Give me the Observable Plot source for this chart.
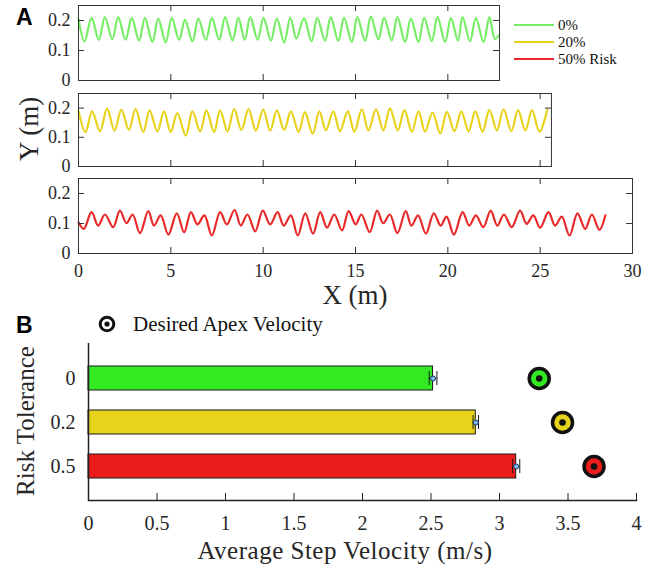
<!DOCTYPE html>
<html>
<head>
<meta charset="utf-8">
<script src="https://cdn.jsdelivr.net/npm/d3@7"></script>
<script src="https://cdn.jsdelivr.net/npm/@observablehq/plot@0.6"></script>
<style>
  html, body { margin: 0; padding: 0; background: #fff; }
  #chart { position: relative; width: 656px; height: 566px; background: #fff; overflow: hidden; }
  #chart > svg, #chart > div { position: absolute; left: 0; }
  #chart svg, #chart svg text { font-family: 'Liberation Serif', 'Times New Roman', serif !important; }
  #chart svg text.bold { font-family: 'Liberation Sans', Arial, sans-serif !important; }
</style>
</head>
<body>
<div id="chart"></div>
<script>
// ---------- Data ----------
const xTicks = [0, 5, 10, 15, 20, 25, 30];
const yTicks = [0, 0.1, 0.2];
const legendLabels = ["0%", "20%", "50% Risk"];
const lineColors = ["#77ee66", "#e8d21c", "#e82a2a"];

const greenX = [0,0.33,0.705,1.10,1.43,1.83,2.15,2.55,2.88,3.28,3.60,4.00,4.32,4.72,5.05,5.45,5.77,6.17,6.49,6.90,7.22,7.62,7.94,8.34,8.66,9.00,9.30,9.70,10.02,10.42,10.74,11.14,11.47,11.80,12.21,12.62,12.93,13.35,13.66,14.07,14.38,14.80,15.10,15.52,15.83,16.24,16.55,16.96,17.27,17.68,18.00,18.41,18.72,19.13,19.44,19.85,20.17,20.55,20.80,21.20,21.52,21.93,22.25,22.55,22.75];
const greenY = [0.205,0.13,0.209,0.135,0.211,0.138,0.211,0.136,0.209,0.133,0.209,0.128,0.206,0.127,0.209,0.135,0.202,0.130,0.206,0.135,0.209,0.136,0.211,0.134,0.209,0.135,0.211,0.136,0.209,0.133,0.206,0.127,0.209,0.140,0.207,0.131,0.209,0.132,0.211,0.132,0.209,0.128,0.211,0.132,0.213,0.137,0.209,0.134,0.211,0.128,0.206,0.128,0.209,0.131,0.211,0.128,0.209,0.133,0.211,0.131,0.209,0.128,0.211,0.138,0.150];

const yellowX = [0,0.38,0.74,1.16,1.55,1.95,2.32,2.73,3.09,3.51,3.85,4.27,4.63,4.99,5.35,5.81,6.17,6.59,6.93,7.34,7.67,8.07,8.43,8.82,9.21,9.60,10.00,10.38,10.74,11.14,11.50,11.92,12.26,12.68,13.04,13.40,13.80,14.16,14.58,14.94,15.34,15.70,16.11,16.51,16.87,17.29,17.65,18.05,18.41,18.77,19.17,19.59,19.95,20.36,20.73,21.12,21.49,21.88,22.25,22.66,23.02,23.44,23.80,24.20,24.56,24.96,25.38];
const yellowY = [0.19,0.118,0.189,0.12,0.198,0.123,0.195,0.125,0.197,0.118,0.192,0.12,0.189,0.118,0.183,0.106,0.189,0.12,0.192,0.118,0.192,0.12,0.197,0.125,0.197,0.123,0.195,0.123,0.192,0.125,0.189,0.118,0.186,0.112,0.189,0.124,0.189,0.121,0.189,0.119,0.196,0.124,0.196,0.124,0.199,0.124,0.193,0.119,0.189,0.119,0.185,0.113,0.187,0.121,0.189,0.121,0.189,0.119,0.193,0.124,0.196,0.121,0.193,0.124,0.193,0.119,0.193];

const redX = [0,0.29,0.705,1.067,1.43,1.88,2.24,2.60,2.93,3.33,3.78,4.09,4.45,4.87,5.32,5.72,6.09,6.44,6.82,7.22,7.67,8.03,8.45,8.79,9.15,9.57,9.98,10.38,10.78,11.11,11.50,11.87,12.28,12.70,13.09,13.46,13.85,14.27,14.63,15.01,15.32,15.77,16.17,16.50,16.86,17.27,17.72,18.03,18.39,18.81,19.24,19.61,19.93,20.33,20.80,21.16,21.52,21.92,22.32,22.68,23.04,23.46,23.91,24.27,24.63,25.00,25.45,25.81,26.17,26.59,27.02,27.44,27.80,28.21,28.53];
const redY = [0.104,0.082,0.138,0.093,0.130,0.088,0.143,0.101,0.130,0.068,0.141,0.093,0.127,0.063,0.134,0.071,0.138,0.097,0.127,0.060,0.138,0.097,0.145,0.093,0.130,0.074,0.143,0.097,0.138,0.093,0.127,0.060,0.134,0.066,0.138,0.086,0.130,0.077,0.141,0.097,0.130,0.071,0.143,0.101,0.130,0.068,0.141,0.093,0.127,0.066,0.134,0.093,0.123,0.063,0.138,0.093,0.127,0.088,0.143,0.093,0.130,0.088,0.143,0.099,0.127,0.086,0.138,0.093,0.123,0.060,0.134,0.082,0.130,0.079,0.127];

// x-extent of each trajectory panel (m)
const panelXMax = [22.80, 25.61, 30];

// Panel B
const risks = ["0", "0.2", "0.5"];
const avgVel = [2.515, 2.827, 3.122];
const velErr = [0.028, 0.020, 0.026];
const apexVel = [3.29, 3.46, 3.69];
const velTicks = [0, 0.5, 1, 1.5, 2, 2.5, 3, 3.5, 4];
const barColors = ["#33ea22", "#e6d31a", "#ea1c1c"];

// ---------- Layout ----------
const W = 656;
const chart = document.getElementById("chart");
const serif = "Liberation Serif";
const axisColor = "#333";
const fmt = d => String(d);

function trajPanel({xs, ys, color, xMax, top, height, mTop, mBottom, showX}) {
  const mLeft = 78;
  const pxPerM = (632 - 78) / 30;
  const mRight = W - (mLeft + xMax * pxPerM);
  const fh = height - mTop - mBottom;
  const fw = W - mLeft - mRight;
  const data = xs.map((x, i) => ({x, y: ys[i]}));
  const xt = xTicks.filter(t => t <= xMax + 1e-9);
  const marks = [
    Plot.line(data, {x: "x", y: "y", stroke: color, strokeWidth: 2.2, curve: "catmull-rom"}),
    Plot.frame({stroke: axisColor, strokeWidth: 1}),
    Plot.tickX(xt, {x: d => d, insetTop: fh - 6, stroke: axisColor}),
    Plot.tickX(xt, {x: d => d, insetBottom: fh - 6, stroke: axisColor}),
    Plot.tickY(yTicks, {y: d => d, insetRight: fw - 6, stroke: axisColor}),
    Plot.tickY(yTicks, {y: d => d, insetLeft: fw - 6, stroke: axisColor}),
    Plot.axisY({ticks: yTicks, tickFormat: fmt, tickSize: 0, tickPadding: 8, label: null, fontSize: 18, fontFamily: serif})
  ];
  if (showX) marks.push(Plot.axisX({ticks: xt, tickFormat: fmt, tickSize: 0, tickPadding: 11, label: null, fontSize: 18, fontFamily: serif}));
  const p = Plot.plot({
    width: W, height,
    marginLeft: mLeft, marginRight: mRight, marginTop: mTop, marginBottom: mBottom,
    x: {domain: [0, xMax], axis: showX ? undefined : null},
    y: {domain: [0, 0.25]},
    style: {fontFamily: serif, fontSize: "18px", color: "#262626", background: "transparent", overflow: "visible"},
    marks
  });
  p.style.top = top + "px";
  chart.appendChild(p);
}

trajPanel({xs: greenX, ys: greenY, color: lineColors[0], xMax: panelXMax[0], top: 0, height: 88, mTop: 5, mBottom: 8, showX: false});
trajPanel({xs: yellowX, ys: yellowY, color: lineColors[1], xMax: panelXMax[1], top: 88, height: 88, mTop: 5, mBottom: 10, showX: false});
trajPanel({xs: redX, ys: redY, color: lineColors[2], xMax: panelXMax[2], top: 176, height: 100, mTop: 2, mBottom: 23, showX: true});

// Panel B
const barData = risks.map((r, i) => ({risk: r, v: avgVel[i], lo: avgVel[i] - velErr[i], hi: avgVel[i] + velErr[i], apex: apexVel[i]}));
const bTop = 310, bH = 256, bMT = 33, bMB = 66;
const bFH = bH - bMT - bMB;
const pB = Plot.plot({
  width: W, height: bH,
  marginLeft: 88, marginRight: 20, marginTop: bMT, marginBottom: bMB,
  x: {domain: [0, 4]},
  y: {domain: risks, type: "band", paddingInner: 0.46, paddingOuter: 0.5},
  color: {domain: risks, range: barColors},
  style: {fontFamily: serif, fontSize: "20px", color: "#262626", background: "transparent", overflow: "visible"},
  marks: [
    Plot.barX(barData, {x: "v", y: "risk", fill: "risk", stroke: "#1a1a1a", strokeWidth: 1}),
    Plot.ruleY(barData, {y: "risk", x1: "lo", x2: "hi", stroke: "#1a1a1a", strokeWidth: 1}),
    Plot.tickX(barData, {x: "lo", y: "risk", stroke: "#1a1a1a", insetTop: 5, insetBottom: 5}),
    Plot.tickX(barData, {x: "hi", y: "risk", stroke: "#1a1a1a", insetTop: 5, insetBottom: 5}),
    Plot.dot(barData, {x: "v", y: "risk", r: 2.5, fill: "#7db9ec", stroke: "#1d3b63", strokeWidth: 1}),
    Plot.dot(barData, {x: "apex", y: "risk", r: 10, fill: "risk", stroke: "#111", strokeWidth: 3.5}),
    Plot.dot(barData, {x: "apex", y: "risk", r: 3.3, fill: "#111"}),
    Plot.ruleX([0], {stroke: "#222", strokeWidth: 1.5}),
    Plot.frame({anchor: "bottom", stroke: "#222", strokeWidth: 1.5}),
    Plot.tickX(velTicks, {x: d => d, insetTop: bFH - 7, stroke: "#222"}),
    Plot.axisX({ticks: velTicks, tickFormat: fmt, tickSize: 0, tickPadding: 15, label: null, fontSize: 20, fontFamily: serif}),
    Plot.axisY({tickSize: 0, tickPadding: 13, label: null, fontSize: 20, fontFamily: serif})
  ]
});
pB.style.top = bTop + "px";
chart.appendChild(pB);

// ---------- Overlay: panel letters, axis titles, legends ----------
const ov = d3.select(chart).append("svg")
  .attr("width", W).attr("height", 566)
  .style("top", "0px").style("pointer-events", "none");

const bold = "Liberation Sans";
ov.append("text").attr("class", "bold").attr("x", 16).attr("y", 25).attr("font-family", bold).attr("font-weight", "bold").attr("font-size", 23).text("A");
ov.append("text").attr("class", "bold").attr("x", 16).attr("y", 333).attr("font-family", bold).attr("font-weight", "bold").attr("font-size", 23).text("B");

ov.append("text").attr("transform", "translate(29,129) rotate(-90)")
  .attr("text-anchor", "middle").attr("dominant-baseline", "central")
  .attr("font-family", serif).attr("font-size", 27).attr("fill", "#262626").text("Y (m)");
ov.append("text").attr("x", 355).attr("y", 304).attr("text-anchor", "middle")
  .attr("font-family", serif).attr("font-size", 27).attr("fill", "#262626").text("X (m)");
ov.append("text").attr("transform", "translate(25,421) rotate(-90)")
  .attr("text-anchor", "middle").attr("dominant-baseline", "central")
  .attr("font-family", serif).attr("font-size", 25).attr("fill", "#262626").text("Risk Tolerance");
ov.append("text").attr("x", 345).attr("y", 559).attr("text-anchor", "middle")
  .attr("font-family", serif).attr("font-size", 25).attr("letter-spacing", 0.5).attr("fill", "#262626").text("Average Step Velocity (m/s)");

// Legend A
const legY = [25, 42, 59];
legendLabels.forEach((lab, i) => {
  ov.append("line").attr("x1", 514).attr("x2", 554).attr("y1", legY[i]).attr("y2", legY[i])
    .attr("stroke", lineColors[i]).attr("stroke-width", 2);
  ov.append("text").attr("x", 558).attr("y", legY[i]).attr("dominant-baseline", "central")
    .attr("font-family", serif).attr("font-size", 15).attr("fill", "#111").text(lab);
});

// Legend B
ov.append("circle").attr("cx", 107).attr("cy", 324).attr("r", 6.8).attr("fill", "#fff").attr("stroke", "#111").attr("stroke-width", 3);
ov.append("circle").attr("cx", 107).attr("cy", 324).attr("r", 2.6).attr("fill", "#111");
ov.append("text").attr("x", 133).attr("y", 331).attr("font-family", serif).attr("font-size", 21).attr("fill", "#111").text("Desired Apex Velocity");
</script>
</body>
</html>
